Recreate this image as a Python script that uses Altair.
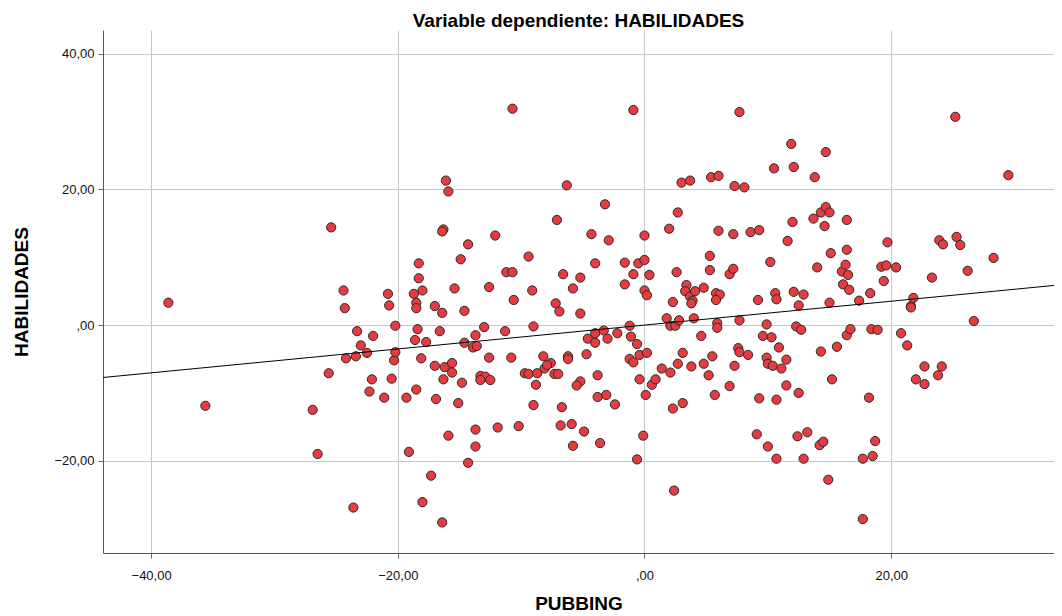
import altair as alt
import pandas as pd

pubbing = [
    -38.6, -35.6, -26.9, -26.5, -25.6, -25.4, -24.4, -24.3, -24.2, -23.6,
    -23.3, -23.4, -23.0, -22.5, -22.0, -22.1, -22.3, -21.1, -20.8, -20.7,
    -20.5, -20.3, -20.2, -20.2, -19.3, -19.1, -18.5, -18.3, -18.3, -18.7,
    -18.0, -18.5, -18.5, -18.4, -18.6, -17.7, -18.1, -18.0, -17.3, -17.0,
    -17.0, -16.9, -16.6, -16.4, -16.2, -16.3, -16.1, -15.9, -16.3, -16.4,
    -15.9, -16.4, -15.6, -15.6, -15.4, -15.1, -14.9, -14.8, -14.6, -14.6,
    -14.3, -14.3, -13.7, -13.9, -13.6, -13.7, -13.7, -13.3, -12.9, -13.3,
    -12.5, -13.0, -12.6, -12.6, -12.1, -11.9, -11.2, -10.7, -11.3, -10.8,
    -10.7, -10.6, -10.2, -9.7, -9.4, -9.4, -9.1, -9.0, -9.0, -8.8,
    -8.7, -8.2, -7.6, -8.1, -7.9, -7.3, -7.0, -7.2, -6.9, -7.1,
    -6.3, -6.6, -6.7, -6.8, -6.2, -6.2, -5.9, -5.8, -5.8, -5.2,
    -5.2, -5.2, -5.5, -4.9, -4.7, -4.6, -4.0, -4.3, -4.0, -4.0,
    -3.3, -3.0, -2.2, -3.8, -3.8, -3.1, -3.6, -3.2, -2.9, -2.4,
    -1.6, -1.6, -1.2, -1.1, -1.2, -0.9, -0.9, -0.9, -0.6, -0.5,
    -0.4, -0.4, -0.6, 0.0, 0.0, 0.0, 0.2, 0.2, 0.4, 0.6,
    0.9, 0.1, -0.1, 1.4, 1.8, 2.0, 2.1, 2.1, 2.3, 2.3,
    2.4, 2.5, 2.6, 2.7, 2.7, 2.8, 3.0, 3.1, 3.1, 3.4,
    3.3, 3.7, 3.7, 3.9, 3.8, 3.8, 4.0, 4.1, 4.6, 4.8,
    4.8, 5.3, 5.3, 5.4, 5.5, 5.2, 5.7, 5.8, 6.1, 5.8,
    5.9, 5.9, 6.0, 6.0, 6.9, 7.2, 7.2, 6.9, 7.3, 7.3,
    7.6, 7.7, 7.7, 7.7, 8.1, 8.4, 8.6, 9.3, 9.2, 9.1,
    9.3, 9.6, 9.9, 9.9, 10.0, 10.0, 10.2, 10.3, 10.4, 10.5,
    10.6, 10.7, 10.7, 10.7, 10.9, 11.1, 11.5, 11.5, 11.6, 11.9,
    12.0, 12.1, 12.1, 12.3, 12.4, 12.5, 12.5, 12.7, 12.9, 12.9,
    13.2, 13.7, 13.8, 14.0, 14.2, 14.3, 14.3, 14.5, 14.6, 14.7,
    14.7, 14.9, 15.0, 15.0, 15.1, 15.2, 15.6, 16.0, 16.1, 16.3,
    16.4, 16.4, 16.5, 16.6, 16.4, 16.7, 17.4, 17.7, 17.7, 18.2,
    18.3, 18.4, 18.5, 18.7, 18.9, 19.2, 19.4, 19.6, 19.7, 20.4,
    20.8, 21.3, 21.6, 21.6, 21.8, 22.0, 22.7, 22.7, 23.3, 23.8,
    23.9, 24.1, 24.2, 25.2, 25.3, 25.6, 26.2, 26.7, 28.3, 29.5,
]

habilidades = [
    3.3, -11.9, -12.5, -19.0, -7.1, 14.4, 5.1, 2.5, -4.9, -26.9,
    -0.9, -4.6, -3.0, -4.1, -1.6, -8.0, -9.8, -10.7, 4.6, 2.9,
    -7.9, -5.2, -4.0, -0.1, -10.7, -18.7, -9.5, 9.1, 6.9, 4.6,
    5.1, 3.3, 2.5, -0.6, -2.2, -2.5, -4.9, -26.1, -22.2, 2.8,
    -6.0, -10.9, -0.9, 1.8, -6.2, -8.0, 21.3, 19.7, 14.1, 13.8,
    -16.3, -29.1, -5.6, -7.0, 5.4, -11.5, 9.7, -8.5, 2.1, -2.6,
    11.9, -20.3, -1.5, -3.3, -3.1, -15.4, -17.9, -7.5, -7.6, -8.1,
    -8.1, -0.3, 5.6, -4.8, 13.2, -15.1, 7.8, 7.8, -0.9, -4.8,
    31.9, 3.7, -14.9, -7.1, -7.2, 10.1, 5.1, -0.2, -11.8, -8.8,
    -7.1, -4.6, -5.6, -6.4, -5.9, -7.2, -7.2, 3.2, 2.0, 15.5,
    20.6, 7.5, -12.1, -14.8, -4.6, -5.0, -14.6, -17.8, 5.4, 7.0,
    1.7, -8.3, -8.9, -15.7, -4.3, -2.0, -2.6, 13.4, 9.1, -1.2,
    -0.8, -2.0, -1.2, -7.4, -10.6, -10.3, -17.4, 17.8, 12.5, -11.7,
    9.2, 6.0, -0.1, -1.7, -5.0, -5.5, 31.7, 7.5, -2.8, 9.1,
    -4.4, -8.0, -19.8, 9.6, 13.2, 5.1, 4.4, -4.1, 7.4, -8.8,
    -8.0, -10.3, -16.3, -6.4, 1.0, 14.2, -0.1, -7.0, 3.4, -12.3,
    -24.4, -0.1, 7.8, 16.6, -5.7, 0.7, 21.0, -4.1, -11.5, 5.9,
    5.0, 21.3, 4.2, 3.6, 3.2, -6.1, 1.0, 5.0, -1.6, 5.5,
    -5.7, 10.2, 8.1, 21.8, -4.6, -7.4, -10.3, 4.7, 4.5, 3.7,
    0.3, -0.4, 22.0, 13.9, 7.5, 8.3, 13.4, -9.0, 20.5, -6.0,
    -3.4, -4.0, 31.4, 0.7, 20.3, -4.4, 13.7, 14.0, 3.7, -16.1,
    -10.8, -1.6, 0.1, -4.8, -5.7, -17.9, 9.3, -1.8, -6.0, 23.1,
    4.7, 3.8, -11.0, -19.7, -3.3, -6.4, -5.1, -8.9, 12.4, 26.7,
    15.2, 23.3, 4.9, -0.2, -16.4, 2.9, -10.0, -0.7, 4.5, -19.7,
    -15.8, 15.7, 21.8, 8.5, -17.7, 16.6, -3.9, -17.2, 14.6, 17.4,
    25.5, -22.8, 16.6, 3.3, 10.6, -8.0, -3.2, 7.9, 6.0, 8.9,
    15.5, 11.1, 7.4, 5.2, -1.5, -0.6, 3.6, -19.7, -28.6, -10.7,
    4.7, -0.6, -19.3, -17.1, -0.7, 8.6, 6.5, 8.8, 12.2, 8.5,
    -1.2, -3.0, 2.8, 2.6, 4.0, -8.0, -6.1, -8.7, 7.0, -7.4,
    12.5, -6.1, 11.9, 30.7, 13.0, 11.8, 8.0, 0.6, 9.9, 22.1,
]

# fitted line (partial regression line)
fit_slope = 0.176
fit_intercept = 0.0

x_domain = [-43.9, 33.2]
y_domain = [-33.6, 43.5]
x_ticks = [-40, -20, 0, 20]
y_ticks = [-20, 0, 20, 40]

df = pd.DataFrame({"PUBBING": pubbing, "HABILIDADES": habilidades})
fit = pd.DataFrame({
    "PUBBING": x_domain,
    "HABILIDADES": [fit_intercept + fit_slope * v for v in x_domain],
})

label_expr = "datum.value == 0 ? ',00' : replace(format(datum.value, '.2f'), '.', ',')"
FONT = "Liberation Sans"

x_enc = alt.X(
    "PUBBING:Q",
    scale=alt.Scale(domain=x_domain, nice=False, zero=False),
    axis=alt.Axis(
        values=x_ticks, labelExpr=label_expr, title="PUBBING",
        titleFont=FONT, titleFontSize=19, titleFontWeight="bold", titleColor="#000",
        titlePadding=12, labelFont=FONT, labelFontSize=13, labelColor="#111",
        labelPadding=11, tickSize=5, tickColor="#666", domainColor="#555",
        gridColor="#c8c8c8", grid=True,
    ),
)
y_enc = alt.Y(
    "HABILIDADES:Q",
    scale=alt.Scale(domain=y_domain, nice=False, zero=False),
    axis=alt.Axis(
        values=y_ticks, labelExpr=label_expr, title="HABILIDADES",
        titleFont=FONT, titleFontSize=19, titleFontWeight="bold", titleColor="#000",
        titlePadding=22, labelFont=FONT, labelFontSize=13, labelColor="#111",
        labelPadding=4, tickSize=5, tickColor="#666", domainColor="#555",
        gridColor="#c8c8c8", grid=True,
    ),
)

points = alt.Chart(df).mark_point(
    filled=True, shape="circle", size=85, fill="#e63c3f", stroke="#2a2a2a",
    strokeWidth=1, opacity=1, fillOpacity=1,
).encode(x=x_enc, y=y_enc)

line = alt.Chart(fit).mark_line(color="#000", strokeWidth=1, clip=True).encode(
    x="PUBBING:Q", y="HABILIDADES:Q"
)

chart = alt.layer(points, line).properties(
    width=951,
    height=523,
    autosize=alt.AutoSizeParams(type="none"),
    padding={"left": 95, "top": 22, "right": 0, "bottom": 63},
    title=alt.TitleParams(
        "Variable dependiente: HABILIDADES", font=FONT, fontSize=19,
        fontWeight="bold", color="#000", anchor="middle", offset=-1,
    ),
).configure_view(stroke=None)

chart.save("out.html", embed_options={"renderer": "svg", "actions": False})
